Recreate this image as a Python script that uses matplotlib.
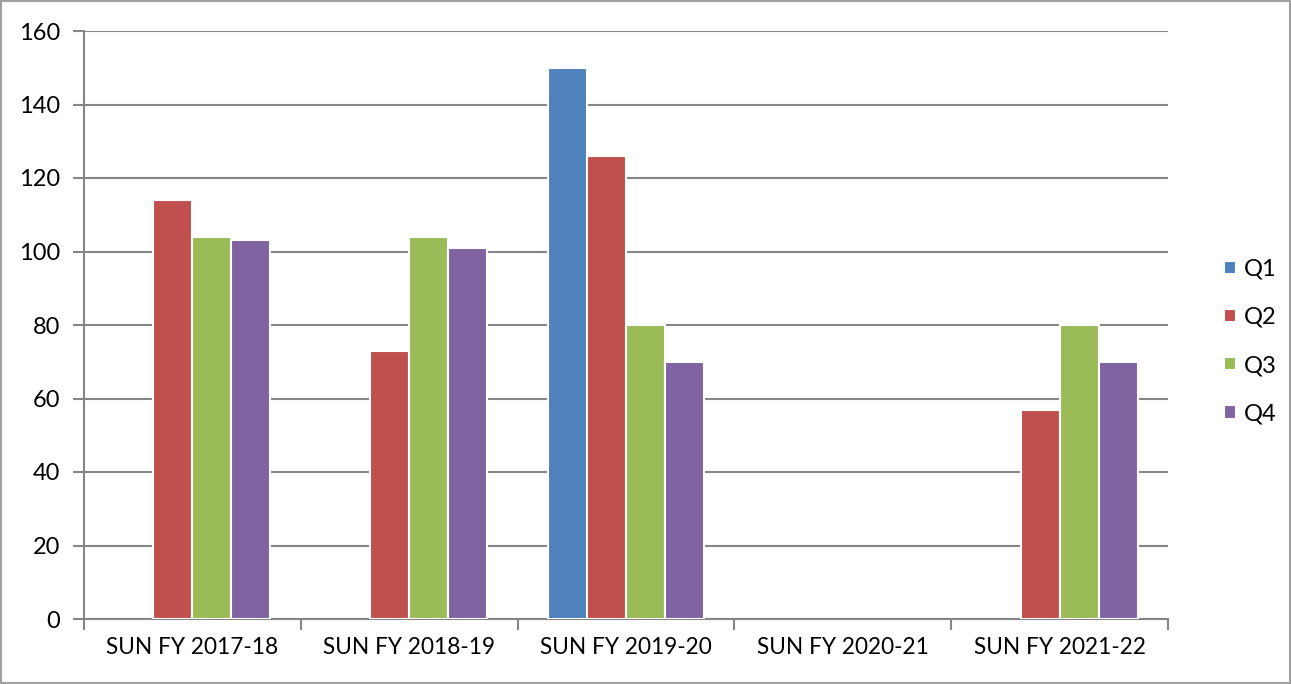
import matplotlib.pyplot as plt
import numpy as np
from matplotlib.patches import Rectangle

# datos del grafico
categorias = ['SUN FY 2017-18', 'SUN FY 2018-19', 'SUN FY 2019-20', 'SUN FY 2020-21', 'SUN FY 2021-22']
q1 = [np.nan, np.nan, 150, np.nan, np.nan]
q2 = [114, 73, 126, np.nan, 57]
q3 = [104, 104, 80, np.nan, 80]
q4 = [103, 101, 70, np.nan, 70]
series = ['Q1', 'Q2', 'Q3', 'Q4']
colores = ['#4F81BD', '#C0504D', '#9BBB59', '#8064A2']

plt.rcParams['font.family'] = ['Lato', 'DejaVu Sans']

fig = plt.figure(figsize=(12.91, 6.84), dpi=100)
ax = fig.add_axes([84 / 1291, 65 / 684, 1084 / 1291, 588 / 684])

x = np.arange(len(categorias))
ancho = 0.18
for i, (vals, nombre, c) in enumerate(zip([q1, q2, q3, q4], series, colores)):
    ax.bar(x + (i - 1.5) * ancho, vals, ancho, color=c, edgecolor='white',
           linewidth=1.5, label=nombre, zorder=3)

ax.set_xlim(-0.5, len(categorias) - 0.5)
ax.set_ylim(0, 160)
ax.set_yticks(range(0, 161, 20))
ax.set_xticks(x)
ax.set_xticklabels(categorias, fontsize=16.3)
ax.set_xticks(np.arange(-0.5, len(categorias), 1), minor=True)
ax.tick_params(axis='x', which='major', length=0, pad=13)
ax.tick_params(axis='x', which='minor', length=8, width=1.5, color='#868686')
ax.tick_params(axis='y', length=8, width=1.5, color='#868686', labelsize=17, pad=9)

ax.grid(axis='y', color='#868686', linewidth=1.5, zorder=0)
for s in ['top', 'right']:
    ax.spines[s].set_visible(False)
for s in ['left', 'bottom']:
    ax.spines[s].set_color('#868686')
    ax.spines[s].set_linewidth(1.5)

ax.legend(loc='center left', bbox_to_anchor=(1.041, 0.472), frameon=False,
          borderpad=0, handlelength=0.5, handleheight=0.5, handletextpad=0.35,
          labelspacing=1.15, fontsize=17)

# borde del grafico
fig.patches.append(Rectangle((0.001, 0.001), 0.998, 0.998, transform=fig.transFigure,
                             fill=False, edgecolor='#A0A0A0', linewidth=1.5))

plt.savefig('out.png', dpi=100)
